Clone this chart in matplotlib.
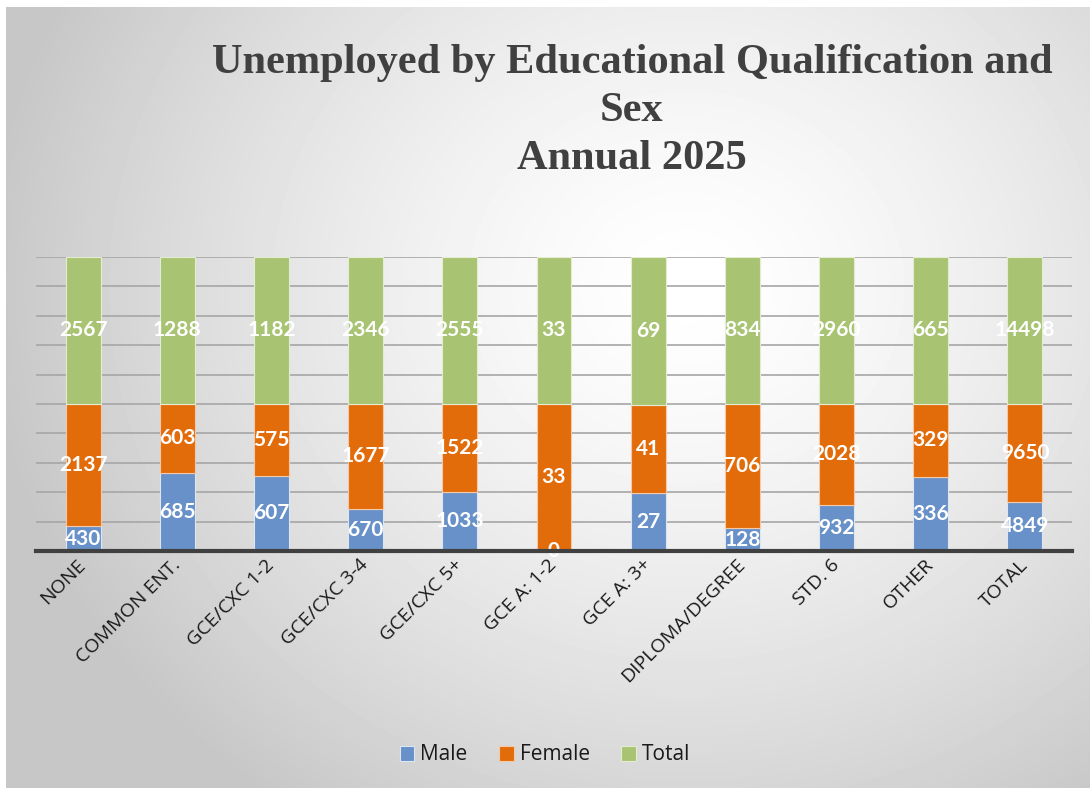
import numpy as np
import matplotlib.pyplot as plt

categories = ['NONE', 'COMMON ENT.', 'GCE/CXC 1-2', 'GCE/CXC 3-4', 'GCE/CXC 5+',
              'GCE A: 1-2', 'GCE A: 3+', 'DIPLOMA/DEGREE', 'STD. 6', 'OTHER', 'TOTAL']
male = [430, 685, 607, 670, 1033, 0, 27, 128, 932, 336, 4849]
female = [2137, 603, 575, 1677, 1522, 33, 41, 706, 2028, 329, 9650]
total = [2567, 1288, 1182, 2346, 2555, 33, 69, 834, 2960, 665, 14498]

colors = {'Male': '#6791C8', 'Female': '#E36C0A', 'Total': '#A8C472'}

W, H = 1090, 788
fig = plt.figure(figsize=(W / 100, H / 100), dpi=100)

# background with radial gradient
bg = fig.add_axes([6 / W, 0, 1 - 6 / W, 1 - 7 / H])
yy, xx = np.mgrid[0:781, 0:1084]
r = np.sqrt(((xx - 680) / 1.0) ** 2 + ((yy - 280) / 0.9) ** 2)
shade = 1.0 - 0.22 * np.clip(r / 700, 0, 1) ** 1.4
bg.imshow(shade, cmap='gray', vmin=0, vmax=1, aspect='auto', interpolation='bilinear')
bg.axis('off')

# plot area
left, right, top, bottom = 36, 1072, 257, 551
ax = fig.add_axes([left / W, 1 - bottom / H, (right - left) / W, (bottom - top) / H])
ax.patch.set_alpha(0)

male = np.array(male, float)
female = np.array(female, float)
total = np.array(total, float)
s = male + female + total
pm, pf, pt = male / s, female / s, total / s
x = np.arange(len(categories))
bw = 0.37
ax.bar(x, pm, bw, color=colors['Male'], edgecolor='#dce6f2', linewidth=0.8, label='Male', zorder=3)
ax.bar(x, pf, bw, bottom=pm, color=colors['Female'], edgecolor='#f5c9a8', linewidth=0.8, label='Female', zorder=3)
ax.bar(x, pt, bw, bottom=pm + pf, color=colors['Total'], edgecolor='#e3ecd3', linewidth=0.8, label='Total', zorder=3)

lab_font = dict(color='white', fontsize=15, fontweight='bold', family=['Lato', 'DejaVu Sans'],
                ha='center', va='center', zorder=5)
for i in range(len(x)):
    ax.text(x[i], pm[i] / 2, f'{int(male[i])}', **lab_font)
    ax.text(x[i], pm[i] + pf[i] / 2, f'{int(female[i])}', **lab_font)
    ax.text(x[i], pm[i] + pf[i] + pt[i] / 2, f'{int(total[i])}', **lab_font)

ax.set_xlim(-0.5, len(x) - 0.5)
ax.set_ylim(0, 1)
ax.set_yticks(np.linspace(0, 1, 11))
ax.yaxis.grid(True, color='#a6a6a6', linewidth=1.2, zorder=0)
ax.tick_params(axis='y', left=False, labelleft=False)
ax.tick_params(axis='x', length=0, pad=8)
for sp in ['left', 'right', 'top']:
    ax.spines[sp].set_visible(False)
ax.spines['bottom'].set_color('#404040')
ax.spines['bottom'].set_linewidth(3)
ax.spines['bottom'].set_zorder(6)

ax.set_xticks(x)
ax.set_xticklabels(categories, rotation=45, ha='right', va='center', rotation_mode='anchor',
                   fontsize=14, color='#1a1a1a', family=['Open Sans', 'DejaVu Sans'])

fig.text(632 / W, 1 - 111 / H, 'Unemployed by Educational Qualification and\nSex\nAnnual 2025',
         ha='center', va='center', fontsize=30.5, fontweight='bold', color='#404040',
         family=['Liberation Serif', 'DejaVu Serif'], linespacing=1.34)

fig.legend(loc='center', bbox_to_anchor=(545 / W, 1 - 755 / H), ncol=3, frameon=False,
           handlelength=0.7, handleheight=0.7, handletextpad=0.3,
           columnspacing=1.5, labelcolor='#1a1a1a',
           prop={'family': ['Open Sans', 'DejaVu Sans'], 'size': 15})

fig.savefig('out.png', dpi=100)
